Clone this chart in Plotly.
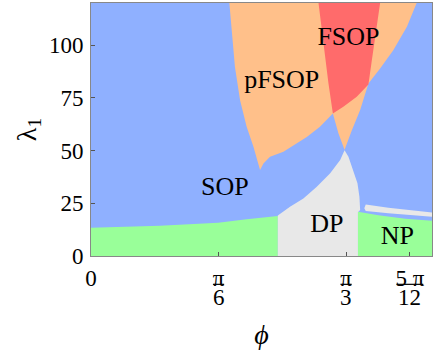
import math
import plotly.graph_objects as go

# ---- data ----
SOP_PHI = [0.0, 1.4, 1.4, 0.0]
SOP_LAM = [0, 0, 120, 120]

PFSOP_PHI = [0.568, 0.578, 0.591, 0.612, 0.639, 0.667, 0.687, 0.694, 0.708, 0.735, 0.790, 0.886,
             0.940, 0.993, 1.016, 1.041, 1.071, 1.105, 1.139, 1.187, 1.241, 1.297, 1.337]
PFSOP_LAM = [120, 105.5, 89.7, 73.9, 61.3, 51.8, 43.9, 40.8, 43.9, 47.1, 49.4, 56.5,
             61.3, 67.6, 58.1, 50.4, 59.7, 69.2, 81.8, 88.9, 97.6, 108.7, 120]

FSOP_PHI = [0.934, 0.954, 0.975, 0.993, 1.036, 1.091, 1.139, 1.153, 1.173, 1.187]
FSOP_LAM = [120, 100.8, 81.8, 67.6, 70.8, 75.5, 81.4, 92.9, 108.7, 120]

NPL_PHI = [0.0, 0.0, 0.283, 0.522, 0.639, 0.767, 0.767]
NPL_LAM = [0, 13.4, 14.4, 15.8, 17.4, 19.0, 0]

DP_PHI = [0.767, 0.767, 0.817, 0.872, 0.927, 0.982, 1.023, 1.041, 1.057, 1.077, 1.094, 1.102,
          1.105, 1.096, 1.096]
DP_LAM = [0, 19.2, 23.4, 27.3, 32.8, 39.2, 45.5, 50.2, 47.1, 40.8, 34.5, 28.1, 21.8, 20.8, 0]

NP_PHI = [1.096, 1.096, 1.18, 1.29, 1.4, 1.4]
NP_LAM = [0, 21.0, 19.3, 17.7, 16.7, 0]

SLIVER_PHI = [1.122, 1.128, 1.221, 1.303, 1.4, 1.4, 1.303, 1.221, 1.16, 1.128]
SLIVER_LAM = [22.6, 24.4, 22.9, 21.7, 20.6, 18.6, 19.4, 20.3, 21.0, 21.4]

LABEL_TEXT = ["FSOP", "pFSOP", "SOP", "DP", "NP"]
LABEL_PHI = [1.057, 0.783, 0.550, 0.968, 1.258]
LABEL_LAM = [103.2, 82.6, 31.8, 14.7, 8.9]

X_TICKS = [0, math.pi / 6, math.pi / 3, 5 * math.pi / 12]
X_NUM = ["0", "π", "π", "5 π"]
X_DEN = ["", "6", "3", "12"]
Y_TICKS = [0, 25, 50, 75, 100]

# ---- styles ----
BLUE = "#8FB0FF"
ORANGE = "#FFC08A"
RED = "#FF6B6B"
GREEN = "#99FF99"
GRAY = "#E8E8E8"
FONT = "Liberation Serif, Times New Roman, serif"

fig = go.Figure()


def region(px, py, color):
    fig.add_trace(go.Scatter(x=px, y=py, mode="lines", fill="toself", fillcolor=color,
                             line=dict(width=0, color=color), hoverinfo="skip", showlegend=False))


region(SOP_PHI, SOP_LAM, BLUE)
region(PFSOP_PHI, PFSOP_LAM, ORANGE)
region(FSOP_PHI, FSOP_LAM, RED)
region(NPL_PHI, NPL_LAM, GREEN)
region(DP_PHI, DP_LAM, GRAY)
region(NP_PHI, NP_LAM, GREEN)
region(SLIVER_PHI, SLIVER_LAM, GRAY)

fig.add_trace(go.Scatter(x=LABEL_PHI, y=LABEL_LAM, mode="text", text=LABEL_TEXT,
                         textposition="middle center",
                         textfont=dict(family=FONT, size=26, color="black"),
                         hoverinfo="skip", showlegend=False))

# fraction denominators and bars under the x tick numerators
half_w = {"6": 0.023, "3": 0.023, "12": 0.055}
for xv, den in zip(X_TICKS, X_DEN):
    if not den:
        continue
    fig.add_annotation(x=xv, y=-0.165, xref="x", yref="paper", text=den, showarrow=False,
                       xanchor="center", yanchor="middle",
                       font=dict(family=FONT, size=23, color="black"))
    fig.add_shape(type="line", xref="x", yref="paper", x0=xv - half_w[den], x1=xv + half_w[den],
                  y0=-0.112, y1=-0.112, line=dict(color="black", width=1.2))

axis_common = dict(showgrid=False, zeroline=False, showline=True, mirror=True,
                   linecolor="#888888", linewidth=1, ticks="inside", ticklen=4,
                   tickcolor="#555555", tickfont=dict(family=FONT, size=23, color="black"))

fig.update_xaxes(range=[0, 1.4], tickvals=X_TICKS, ticktext=X_NUM, **axis_common,
                 ticklabelstandoff=1,
                 title=dict(text="<i>ϕ</i>", font=dict(family=FONT, size=28, color="black"),
                            standoff=34))
fig.update_yaxes(range=[0, 120], tickvals=Y_TICKS, **axis_common,
                 ticklabelstandoff=2,
                 title=dict(text="λ<sub>1</sub>", font=dict(family=FONT, size=28, color="black"),
                            standoff=4))

fig.update_layout(width=438, height=356, margin=dict(l=91, r=6, t=3, b=100),
                  font=dict(family=FONT, color="black"),
                  plot_bgcolor="white", paper_bgcolor="white")

fig.write_html("out.html")
